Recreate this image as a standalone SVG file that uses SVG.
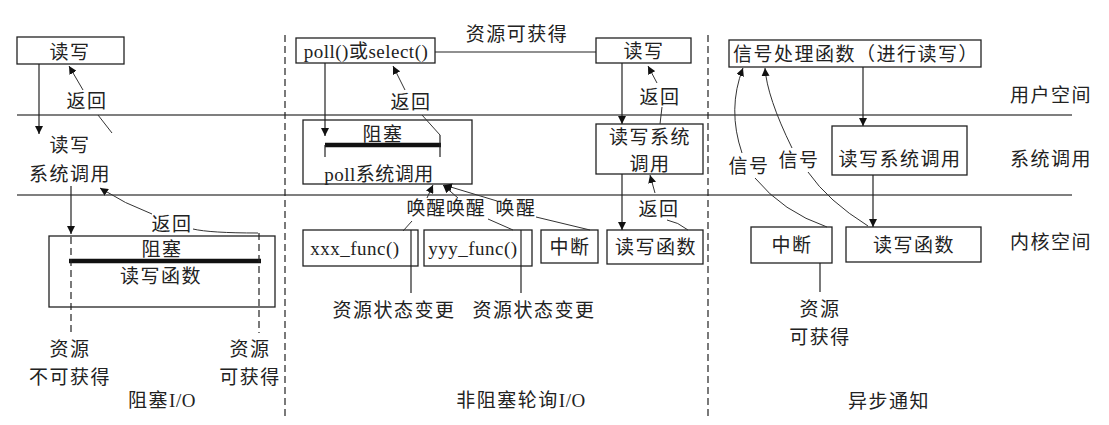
<svg xmlns="http://www.w3.org/2000/svg" width="1109" height="425" viewBox="0 0 1109 425">
<style>
text{font-family:"Liberation Serif","Noto Sans CJK SC",serif;font-size:19px;fill:#222;text-anchor:middle;letter-spacing:1.5px}
text.lat,tspan.lat{letter-spacing:0.5px}
.box{fill:#fff;stroke:#222;stroke-width:1.3}
.ln{fill:none;stroke:#222;stroke-width:1.2}
.thin{fill:none;stroke:#333;stroke-width:1}
.arr{fill:none;stroke:#222;stroke-width:1.2;marker-end:url(#ah)}
.arr2{fill:none;stroke:#333;stroke-width:1;marker-end:url(#ah)}
.dash{fill:none;stroke:#222;stroke-width:1.2;stroke-dasharray:7,4}
.sep{fill:none;stroke:#555;stroke-width:1.3}
.thick{stroke:#111;stroke-width:4.5}
</style>
<defs>
<marker id="ah" viewBox="0 0 10 10" refX="10" refY="5" markerWidth="8" markerHeight="8" markerUnits="userSpaceOnUse" orient="auto">
<path d="M0,0 L10,5 L0,10 z" fill="#111"/>
</marker>
</defs>
<rect width="1109" height="425" fill="#fff"/>

<g id="layers">
<line class="sep" x1="17" y1="115" x2="1072" y2="115"/>
<line class="sep" x1="17" y1="195" x2="1072" y2="195"/>
<line class="dash" x1="285" y1="35" x2="285" y2="418"/>
<line class="dash" x1="708" y1="35" x2="708" y2="418"/>
<text x="1051" y="102">用户空间</text>
<text x="1051" y="166">系统调用</text>
<text x="1051" y="249">内核空间</text>
</g>

<!-- Blocking I/O -->
<g id="block-rw">
<rect class="box" x="17" y="37" width="107" height="27"/>
<text x="70" y="59">读写</text>
</g>
<g id="block-syscall">
<text x="70" y="152">读写</text>
<text x="70" y="181">系统调用</text>
</g>
<g id="block-func">
<rect class="box" x="49" y="236" width="226" height="71"/>
<text x="162" y="256">阻塞</text>
<line class="thick" x1="69" y1="261" x2="261" y2="261"/>
<text x="161" y="283">读写函数</text>
</g>
<g id="block-labels">
<text x="87" y="108">返回</text>
<text x="172" y="231">返回</text>
<text x="70" y="356">资源</text>
<text x="70" y="384">不可获得</text>
<text x="250" y="356">资源</text>
<text x="250" y="384">可获得</text>
<text x="162" y="407">阻塞<tspan class="lat">I/O</tspan></text>
</g>

<!-- Non-blocking polling I/O -->
<g id="poll-select">
<rect class="box" x="296" y="38" width="139" height="25"/>
<text class="lat" x="366" y="58">poll()或select()</text>
</g>
<g id="poll-rw">
<rect class="box" x="596" y="38" width="95" height="25"/>
<text x="644" y="58">读写</text>
</g>
<g id="poll-syscall">
<rect class="box" x="303" y="120" width="169" height="64"/>
<text x="383" y="141">阻塞</text>
<line class="thick" x1="325" y1="145" x2="441" y2="145"/>
<text class="lat" x="379" y="181">poll系统调用</text>
</g>
<g id="poll-rwsyscall">
<rect class="box" x="596" y="124" width="107" height="50"/>
<text x="650" y="144">读写系统</text>
<text x="650" y="171">调用</text>
</g>
<g id="xxx-func">
<rect class="box" x="303" y="230" width="115" height="36"/>
<text class="lat" x="355" y="255">xxx_func()</text>
</g>
<g id="yyy-func">
<rect class="box" x="424" y="230" width="108" height="36"/>
<text class="lat" x="473" y="255">yyy_func()</text>
</g>
<g id="poll-irq">
<rect class="box" x="541" y="230" width="57" height="33"/>
<text x="570" y="254">中断</text>
</g>
<g id="poll-rwfunc">
<rect class="box" x="607" y="230" width="96" height="34"/>
<text x="656" y="254">读写函数</text>
</g>
<g id="poll-labels">
<text x="517" y="41">资源可获得</text>
<text x="411" y="109">返回</text>
<text x="660" y="104">返回</text>
<text x="659" y="216">返回</text>
<text x="446" y="215" style="letter-spacing:0.8px">唤醒唤醒</text>
<text x="516" y="215">唤醒</text>
<text x="394" y="317">资源状态变更</text>
<text x="534" y="317">资源状态变更</text>
<text x="521" y="407">非阻塞轮询<tspan class="lat">I/O</tspan></text>
</g>

<!-- Async notification -->
<g id="async-handler">
<rect class="box" x="729" y="40" width="252" height="27"/>
<text x="856" y="61">信号处理函数（进行读写）</text>
</g>
<g id="async-syscall">
<rect class="box" x="832" y="126" width="135" height="49"/>
<text x="900" y="166">读写系统调用</text>
</g>
<g id="async-irq">
<rect class="box" x="751" y="227" width="81" height="36"/>
<text x="792" y="252">中断</text>
</g>
<g id="async-rwfunc">
<rect class="box" x="846" y="227" width="135" height="35"/>
<text x="914" y="252">读写函数</text>
</g>
<g id="async-labels">
<text x="749" y="173">信号</text>
<text x="799" y="167">信号</text>
<text x="820" y="316">资源</text>
<text x="820" y="344">可获得</text>
<text x="889" y="408">异步通知</text>
</g>

<g id="connectors">
<!-- blocking -->
<line class="arr" x1="39" y1="64" x2="39" y2="134"/>
<line class="arr2" x1="83" y1="90" x2="69" y2="66"/>
<line class="thin" x1="98" y1="115" x2="112" y2="133"/>
<line class="arr" x1="71" y1="186" x2="71" y2="234"/>
<path class="arr2" d="M152,214 Q125,204 100,188"/>
<path class="thin" d="M193,229 Q210,233 258,233"/>
<line class="dash" x1="71" y1="237" x2="71" y2="333"/>
<line class="dash" x1="259" y1="233" x2="259" y2="333"/>
<!-- polling -->
<line class="ln" x1="435" y1="52" x2="596" y2="52"/>
<line class="arr" x1="325" y1="63" x2="325" y2="136"/>
<line class="ln" x1="325" y1="145" x2="325" y2="157"/>
<line class="ln" x1="440" y1="135" x2="440" y2="157"/>
<line class="arr2" x1="405" y1="90" x2="393" y2="66"/>
<line class="thin" x1="422" y1="115" x2="440" y2="135"/>
<line class="arr" x1="622" y1="63" x2="622" y2="124"/>
<line class="arr2" x1="657" y1="83" x2="648" y2="66"/>
<line class="thin" x1="662" y1="107" x2="660" y2="124"/>
<line class="arr" x1="622" y1="174" x2="622" y2="230"/>
<line class="arr2" x1="655" y1="193" x2="650" y2="175"/>
<path class="thin" d="M667,220 Q678,222 688,230"/>
<line class="arr2" x1="427" y1="198" x2="433" y2="185"/>
<line class="arr2" x1="458" y1="198" x2="443" y2="185"/>
<line class="arr2" x1="497" y1="201" x2="444" y2="185"/>
<line class="thin" x1="403" y1="231" x2="412" y2="221"/>
<line class="thin" x1="513" y1="230" x2="488" y2="219"/>
<line class="thin" x1="590" y1="230" x2="536" y2="217"/>
<line class="ln" x1="411" y1="230" x2="411" y2="293"/>
<line class="ln" x1="521" y1="230" x2="521" y2="293"/>
<!-- async -->
<line class="arr" x1="863" y1="67" x2="863" y2="126"/>
<line class="arr" x1="873" y1="175" x2="873" y2="227"/>
<line class="ln" x1="820" y1="263" x2="820" y2="292"/>
<path class="thin" d="M827,227 Q783,212 755,178"/>
<path class="arr2" d="M742,153 Q727,109 743,68"/>
<path class="thin" d="M868,226 Q828,201 808,172"/>
<path class="arr2" d="M792,148 Q767,97 765,68"/>
</g>
</svg>
